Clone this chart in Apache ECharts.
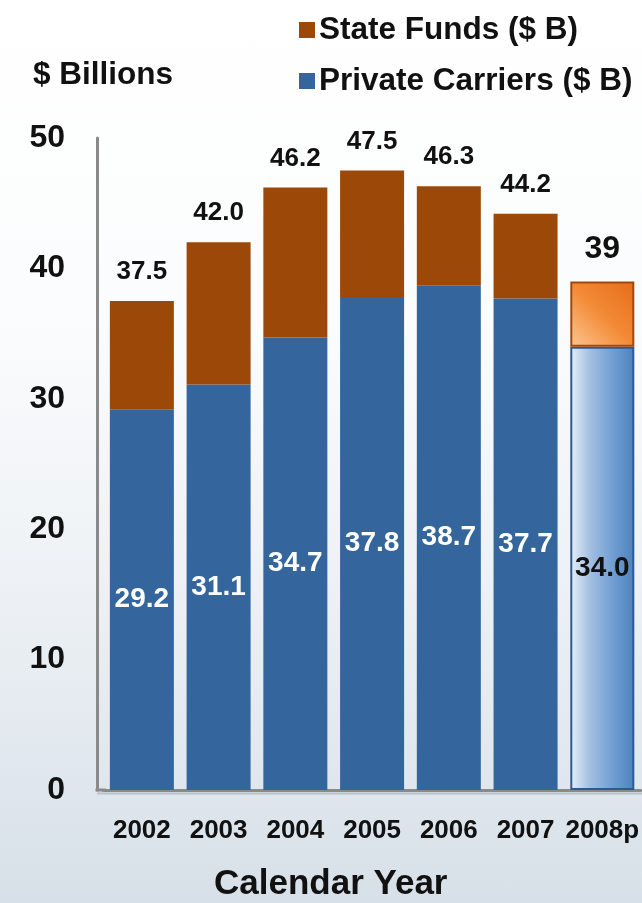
<!DOCTYPE html>
<html>
<head>
<meta charset="utf-8">
<script src="https://cdn.jsdelivr.net/npm/echarts@6/dist/echarts.min.js"></script>
<style>
html,body{margin:0;padding:0;}
body{width:642px;height:903px;background:linear-gradient(to bottom,#ffffff 0%,#fbfcfd 35%,#edf1f5 65%,#d7e0e8 100%);}
#chart{width:642px;height:903px;}
</style>
</head>
<body>
<div id="chart"></div>
<script>
const categories = ['2002','2003','2004','2005','2006','2007','2008p'];
const privateCarriers = [29.2, 31.1, 34.7, 37.8, 38.7, 37.7, 34.0];
const stateFunds = [8.3, 10.9, 11.5, 9.7, 7.6, 6.5, 5.0];
const totalLabels = ['37.5','42.0','46.2','47.5','46.3','44.2','39'];
const yTicks = [0, 10, 20, 30, 40, 50];

const FONT = '"Liberation Sans", Arial, sans-serif';
const BLUE = '#34659c';
const BROWN = '#9c4809';
const projectedIndex = categories.length - 1;

const privateData = privateCarriers.map((v, i) => {
  if (i !== projectedIndex) return v;
  return {
    value: v,
    itemStyle: {
      color: {type:'linear', x:0, y:0, x2:1, y2:0, colorStops:[
        {offset:0, color:'#e9f0f9'}, {offset:0.3, color:'#a4c0e2'}, {offset:0.7, color:'#6c9bd0'}, {offset:1, color:'#4d81be'}]},
      borderColor: '#2c5b92', borderWidth: 2
    },
    label: { color: '#111' }
  };
});
const stateData = stateFunds.map((v, i) => {
  if (i !== projectedIndex) return v;
  return {
    value: v,
    itemStyle: {
      color: {type:'linear', x:0, y:1, x2:1, y2:0, colorStops:[
        {offset:0, color:'#fcc592'}, {offset:0.5, color:'#f38a35'}, {offset:1, color:'#e56d1c'}]},
      borderColor: '#a3480c', borderWidth: 2
    },
    label: { fontSize: 32 }
  };
});

const chart = echarts.init(document.getElementById('chart'), null, {renderer:'canvas'});
chart.setOption({
  animation: false,
  backgroundColor: 'transparent',
  textStyle: { fontFamily: FONT },
  grid: { left: 103.5, right: -1, top: 138, bottom: 113, containLabel: false },
  legend: {
    orient: 'vertical',
    left: 294, top: 9,
    data: ['State Funds ($ B)', 'Private Carriers ($ B)'],
    icon: 'rect',
    itemWidth: 16, itemHeight: 16,
    itemGap: 19,
    textStyle: { fontFamily: FONT, fontSize: 31.5, fontWeight: 'bold', color: '#111', lineHeight: 31, padding: [0,0,0,-1] }
  },
  graphic: [
    { type:'text', left: 33, top: 59, style:{ text:'$ Billions', font:'bold 31.5px ' + FONT, fill:'#111' } },
    { type:'text', left: 214, top: 867, style:{ text:'Calendar Year', font:'bold 35px ' + FONT, fill:'#111' } },
    { type:'line', shape:{x1:95.5, y1:790, x2:106, y2:790}, style:{stroke:'#8a8a8a', lineWidth:3} },
    { type:'line', shape:{x1:97, y1:793.5, x2:642, y2:793.5}, style:{stroke:'#b9c1c9', lineWidth:2}, z: 1 }
  ],
  xAxis: {
    type: 'category',
    data: categories,
    axisLine: { show: true, lineStyle: { color: '#8a8a8a', width: 3 } },
    axisTick: { show: false },
    axisLabel: { margin: 28, fontFamily: FONT, fontSize: 26, fontWeight: 'bold', color: '#111', interval: 0 }
  },
  yAxis: {
    type: 'value',
    min: yTicks[0], max: yTicks[yTicks.length - 1], interval: 10,
    offset: 6.5,
    axisLine: { show: true, lineStyle: { color: '#8a8a8a', width: 3 } },
    axisTick: { show: false },
    splitLine: { show: false },
    axisLabel: { margin: 32, fontFamily: FONT, fontSize: 32, fontWeight: 'bold', color: '#111' }
  },
  series: [
    {
      name: 'Private Carriers ($ B)',
      type: 'bar',
      stack: 'total',
      barWidth: 64,
      data: privateData,
      itemStyle: { color: BLUE },
      label: {
        show: true, position: 'inside',
        fontFamily: FONT, fontSize: 28, fontWeight: 'bold', color: '#fff',
        formatter: p => privateCarriers[p.dataIndex].toFixed(1)
      }
    },
    {
      name: 'State Funds ($ B)',
      type: 'bar',
      stack: 'total',
      barWidth: 64,
      data: stateData,
      itemStyle: { color: BROWN },
      label: {
        show: true, position: 'top', distance: 16,
        fontFamily: FONT, fontSize: 26, fontWeight: 'bold', color: '#111',
        formatter: p => totalLabels[p.dataIndex]
      }
    }
  ]
});
</script>
</body>
</html>
